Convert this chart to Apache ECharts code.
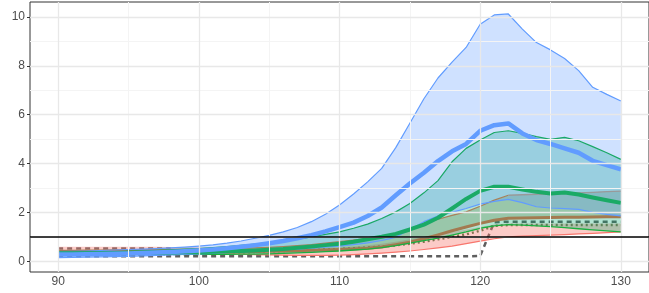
<!DOCTYPE html>
<html><head><meta charset="utf-8">
<script src="https://cdn.jsdelivr.net/npm/echarts@6/dist/echarts.min.js"></script>
<style>html,body{margin:0;padding:0;background:#fff}#c{width:649px;height:293px}</style>
</head><body><div id="c"></div>
<script>
const xValues = [90,91,92,93,94,95,96,97,98,99,100,101,102,103,104,105,106,107,108,109,110,111,112,113,114,115,116,117,118,119,120,121,122,123,124,125,126,127,128,129,130];

const blueUpper = [0.40,0.41,0.42,0.44,0.46,0.48,0.50,0.52,0.55,0.58,0.62,0.67,0.74,0.83,0.94,1.06,1.20,1.38,1.62,1.92,2.30,2.75,3.25,3.80,4.65,5.65,6.65,7.50,8.15,8.75,9.70,10.08,10.12,9.50,8.95,8.65,8.30,7.80,7.12,6.83,6.56];
const blueMedian = [0.28,0.28,0.29,0.30,0.31,0.32,0.34,0.36,0.38,0.41,0.44,0.48,0.53,0.59,0.66,0.74,0.83,0.94,1.07,1.22,1.40,1.58,1.85,2.20,2.70,3.18,3.62,4.10,4.50,4.80,5.34,5.57,5.64,5.23,4.96,4.80,4.62,4.44,4.11,3.93,3.76];
const blueLower = [0.15,0.16,0.17,0.18,0.19,0.20,0.22,0.24,0.26,0.28,0.30,0.32,0.35,0.38,0.41,0.44,0.47,0.50,0.54,0.58,0.62,0.68,0.75,0.85,0.98,1.30,1.62,1.85,2.00,2.16,2.34,2.45,2.53,2.40,2.23,2.18,2.15,2.12,2.00,1.92,1.86];

const greenUpper = [0.36,0.37,0.38,0.39,0.40,0.42,0.43,0.45,0.47,0.50,0.52,0.56,0.60,0.65,0.70,0.76,0.83,0.90,1.00,1.10,1.20,1.35,1.52,1.75,2.02,2.36,2.80,3.30,4.07,4.62,4.96,5.27,5.34,5.23,5.10,4.99,5.07,4.93,4.69,4.44,4.17];
const greenMedian = [0.33,0.33,0.33,0.33,0.34,0.34,0.35,0.35,0.36,0.37,0.38,0.39,0.40,0.42,0.44,0.47,0.50,0.55,0.60,0.66,0.72,0.80,0.90,1.00,1.12,1.30,1.50,1.78,2.16,2.55,2.88,3.05,3.05,2.94,2.84,2.77,2.81,2.73,2.61,2.50,2.39];
const greenLower = [0.30,0.30,0.30,0.29,0.29,0.29,0.28,0.28,0.28,0.28,0.28,0.28,0.28,0.29,0.29,0.30,0.32,0.34,0.36,0.39,0.42,0.46,0.50,0.56,0.64,0.74,0.84,0.95,1.07,1.20,1.35,1.45,1.50,1.48,1.45,1.42,1.38,1.33,1.28,1.24,1.20];

const brownUpper = [0.45,0.45,0.46,0.46,0.47,0.47,0.48,0.48,0.49,0.49,0.50,0.51,0.52,0.54,0.55,0.57,0.60,0.64,0.68,0.74,0.80,0.87,0.94,1.00,1.10,1.30,1.55,1.72,1.88,2.02,2.25,2.50,2.70,2.72,2.74,2.76,2.78,2.80,2.82,2.85,2.87];
const brownMedian = [0.40,0.40,0.40,0.40,0.40,0.40,0.40,0.40,0.40,0.40,0.40,0.40,0.40,0.40,0.40,0.41,0.42,0.43,0.45,0.46,0.48,0.50,0.53,0.58,0.68,0.78,0.92,1.08,1.25,1.40,1.55,1.68,1.76,1.77,1.78,1.79,1.80,1.80,1.81,1.82,1.82];

const redUpper = [0.59,0.59,0.59,0.59,0.59,0.59,0.59,0.59,0.58,0.58,0.57,0.56,0.55,0.54,0.53,0.52,0.52,0.52,0.53,0.54,0.56,0.60,0.65,0.72,0.80,0.90,1.00,1.10,1.20,1.30,1.40,1.50,1.55,1.55,1.55,1.55,1.55,1.55,1.55,1.55,1.55];
const redLower = [0.42,0.42,0.42,0.42,0.42,0.42,0.41,0.40,0.39,0.37,0.35,0.33,0.31,0.29,0.27,0.26,0.25,0.24,0.24,0.24,0.25,0.27,0.30,0.33,0.37,0.42,0.48,0.55,0.62,0.72,0.82,0.92,1.00,1.03,1.05,1.07,1.09,1.12,1.14,1.17,1.20];

const dashHigh = [0.52,0.52,0.52,0.52,0.52,0.52,0.52,0.52,0.52,null,null,null,null,null,null,null,null,null,null,null,null,null,null,null,null,null,null,null,null,null,null,null,null,null,null,null,null,null,null,null,null];
const dashLow = [0.20,0.20,0.20,0.20,0.20,0.20,0.20,0.20,0.20,0.20,0.20,0.20,0.20,0.20,0.20,0.20,0.20,0.20,0.20,0.20,0.20,0.20,0.20,0.20,0.20,0.20,0.20,0.20,0.20,0.20,0.22,1.60,1.62,1.62,1.62,1.62,1.62,1.62,1.62,1.62,1.62];
const dotLine = [0.27,0.27,0.27,0.27,0.28,0.28,0.28,0.29,0.29,0.30,0.30,0.32,0.34,0.36,0.38,0.40,0.42,0.44,0.46,0.48,0.50,0.53,0.56,0.60,0.65,0.72,0.80,0.90,1.00,1.10,1.25,1.45,1.48,1.48,1.48,1.48,1.48,1.48,1.48,1.48,1.48];

const refLine = 1;
const xTicks = [90,100,110,120,130];
const xMinor = [95,105,115,125];
const yTicks = [0,2,4,6,8,10];
const yMinor = [1,3,5,7,9];

function pts(arr, keep){
  const out = [];
  xValues.forEach((x,i)=>{ if(arr[i]!=null && (!keep || keep(x))) out.push([x, arr[i]]); });
  return out;
}
function ribbon(lower, upper, color){
  return {
    type:'custom', z:2, silent:true, data:[[xValues[0], lower[0]]],
    encode:{x:0, y:1},
    renderItem: function(params, api){
      const p = [];
      for (let i=0;i<xValues.length;i++) p.push(api.coord([xValues[i], upper[i]]));
      for (let i=xValues.length-1;i>=0;i--) p.push(api.coord([xValues[i], lower[i]]));
      return {type:'polygon', shape:{points:p}, style:{fill:color}};
    }
  };
}
function line(arr, color, width, z, type, keep){
  return {type:'line', data: pts(arr, keep), symbol:'none', z:z, silent:true,
    lineStyle:{color:color, width:width, type:type||'solid', cap:'butt', join:'round'}};
}

const gridLines = [];
xMinor.forEach(v=>gridLines.push({xAxis:v, lineStyle:{color:'#f4f4f4', width:1, type:'solid'}}));
yMinor.forEach(v=>gridLines.push({yAxis:v, lineStyle:{color:'#f4f4f4', width:1, type:'solid'}}));
xTicks.forEach(v=>gridLines.push({xAxis:v, lineStyle:{color:'#e8e8e8', width:1.3, type:'solid'}}));
yTicks.forEach(v=>gridLines.push({yAxis:v, lineStyle:{color:'#e8e8e8', width:1.3, type:'solid'}}));

const series = [
  {type:'line', data:[], z:0, silent:true,
    markLine:{silent:true, symbol:['none','none'], label:{show:false}, animation:false, data: gridLines}},
  line(dashHigh, '#5f5f5f', 2.5, 1, [5,4]),
  line(dashLow, '#5f5f5f', 2.5, 1, [5,4]),
  line(dotLine, '#3f6f3f', 2.5, 1, [2,3]),
  ribbon(redLower, redUpper, 'rgba(248,118,109,0.38)'),
  ribbon(brownMedian, brownUpper, 'rgba(150,125,80,0.33)'),
  ribbon(greenLower, greenUpper, 'rgba(0,170,110,0.30)'),
  ribbon(blueLower, blueUpper, 'rgba(97,156,255,0.30)'),
  line(redLower, '#f8766d', 1.2, 3),
  line(brownUpper, '#a8805a', 1.2, 3, 'solid', x=>x<=122),
  line(brownUpper, '#999999', 1.4, 3, 'solid', x=>x>=122),
  line(brownMedian, '#a37a50', 3, 3),
  line(greenLower, '#19b040', 1.3, 3),
  line(greenUpper, '#1aa866', 1.2, 3),
  line(blueLower, '#619CFF', 1.2, 3),
  line(blueUpper, '#619CFF', 1.2, 3),
  line(greenMedian, '#1aaa66', 4, 4),
  line(blueMedian, '#619CFF', 4.5, 4),
  {type:'line', data:[], z:5, silent:true,
    markLine:{silent:true, symbol:['none','none'], label:{show:false}, animation:false,
      data:[{yAxis:refLine, lineStyle:{color:'#000', width:1.5, type:'solid'}}]}}
];

const chart = echarts.init(document.getElementById('c'), null, {renderer:'canvas'});
chart.setOption({
  animation:false,
  backgroundColor:'#fff',
  grid:{left:30, right:-1, top:2, bottom:21, show:true, borderColor:'#333', borderWidth:1, backgroundColor:'transparent'},
  xAxis:{type:'value', min:88, max:132,
    axisLine:{show:false}, splitLine:{show:false},
    axisTick:{show:true, length:3, lineStyle:{color:'#333'}, customValues:xTicks},
    axisLabel:{color:'#4d4d4d', fontSize:12, fontFamily:'Liberation Sans, Arial, sans-serif', margin:4, customValues:xTicks}},
  yAxis:{type:'value', min:-0.44, max:10.61,
    axisLine:{show:false}, splitLine:{show:false},
    axisTick:{show:true, length:3, lineStyle:{color:'#333'}, customValues:yTicks},
    axisLabel:{color:'#4d4d4d', fontSize:12, fontFamily:'Liberation Sans, Arial, sans-serif', margin:5, customValues:yTicks}},
  series: series
});
</script></body></html>
